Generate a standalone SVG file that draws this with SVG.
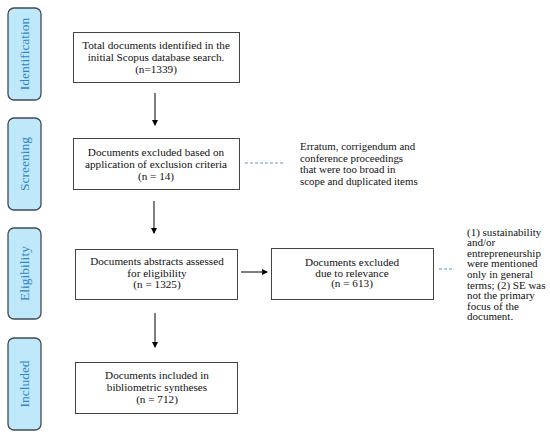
<svg xmlns="http://www.w3.org/2000/svg" width="550" height="439" viewBox="0 0 550 439">
<defs>
<marker id="ah" markerWidth="6" markerHeight="6" refX="5" refY="3" orient="auto" markerUnits="userSpaceOnUse">
<path d="M0,0 L6,3 L0,6 z" fill="#000"/>
</marker>
<style>
.stage rect{fill:#bfe8fb;stroke:#3f4b56;stroke-width:1.3}
.stage text{font-family:"Liberation Serif","DejaVu Serif",serif;font-size:13.5px;fill:#2f86c4;text-anchor:middle}
.box rect{fill:#fff;stroke:#444;stroke-width:1}
.box text{font-family:"Liberation Serif","DejaVu Serif",serif;font-size:11.2px;fill:#111;text-anchor:middle}
.note text{font-family:"Liberation Serif","DejaVu Serif",serif;font-size:10.9px;fill:#111}
.note2 text{font-family:"Liberation Serif","DejaVu Serif",serif;font-size:11px;fill:#111}
.conn line{stroke:#000;stroke-width:1}
.conn line.dash{stroke:#5b9bd5;stroke-dasharray:3,2}
</style>
</defs>
<rect width="550" height="439" fill="#fff"/>
<g id="stage-identification" class="stage"><rect x="8" y="8" width="33" height="92" rx="6"/><text transform="translate(29,54) rotate(-90)">Identification</text></g>
<g id="stage-screening" class="stage"><rect x="8" y="118" width="33" height="92" rx="6"/><text transform="translate(29,164) rotate(-90)">Screening</text></g>
<g id="stage-eligibility" class="stage"><rect x="8" y="228" width="33" height="91" rx="6"/><text transform="translate(29,273.5) rotate(-90)">Eligibility</text></g>
<g id="stage-included" class="stage"><rect x="8" y="338" width="33" height="92" rx="6"/><text transform="translate(29,384) rotate(-90)">Included</text></g>
<g id="box-identified" class="box"><rect x="73.5" y="32.5" width="166" height="50"/><text x="156" y="49">Total documents identified in the</text><text x="156" y="60.5">initial Scopus database search.</text><text x="156" y="73">(n=1339)</text></g>
<g id="box-screening" class="box"><rect x="73.5" y="138.5" width="166" height="51"/><text x="156" y="155.5">Documents excluded based on</text><text x="156" y="167.5">application of exclusion criteria</text><text x="156" y="179.5">(n = 14)</text></g>
<g id="box-eligibility" class="box"><rect x="75.5" y="249.5" width="162" height="50"/><text x="157" y="265">Documents abstracts assessed</text><text x="157" y="276.5">for eligibility</text><text x="157" y="288">(n =  1325)</text></g>
<g id="box-excluded" class="box"><rect x="271.5" y="248.5" width="162" height="51"/><text x="352" y="266">Documents excluded</text><text x="352" y="276.5">due to relevance</text><text x="352" y="287">(n = 613)</text></g>
<g id="box-included" class="box"><rect x="75.5" y="362.5" width="162" height="51"/><text x="157" y="379">Documents included in</text><text x="157" y="391">bibliometric syntheses</text><text x="157" y="403">(n =  712)</text></g>
<g id="note-screening" class="note"><text x="300" y="150">Erratum, corrigendum and</text><text x="300" y="161.7">conference proceedings</text><text x="300" y="173.4">that were too broad in</text><text x="300" y="185">scope and duplicated items</text></g>
<g id="note-excluded" class="note2"><text x="467" y="235.5">(1) sustainability</text><text x="467" y="246.1">and/or</text><text x="467" y="256.7">entrepreneurship</text><text x="467" y="267.3">were mentioned</text><text x="467" y="277.9">only in general</text><text x="467" y="288.5">terms; (2) SE was</text><text x="467" y="299.1">not the primary</text><text x="467" y="309.7">focus of the</text><text x="467" y="320.3">document.</text></g>
<g id="connectors" class="conn">
<line x1="155" y1="93" x2="155" y2="125" marker-end="url(#ah)"/>
<line x1="154" y1="201" x2="154" y2="233" marker-end="url(#ah)"/>
<line x1="155" y1="313" x2="155" y2="347" marker-end="url(#ah)"/>
<line x1="241" y1="272" x2="267" y2="272" marker-end="url(#ah)"/>
<line class="dash" x1="245" y1="163" x2="285" y2="163"/>
<line class="dash" x1="439" y1="269" x2="454" y2="269"/>
</g>
</svg>
